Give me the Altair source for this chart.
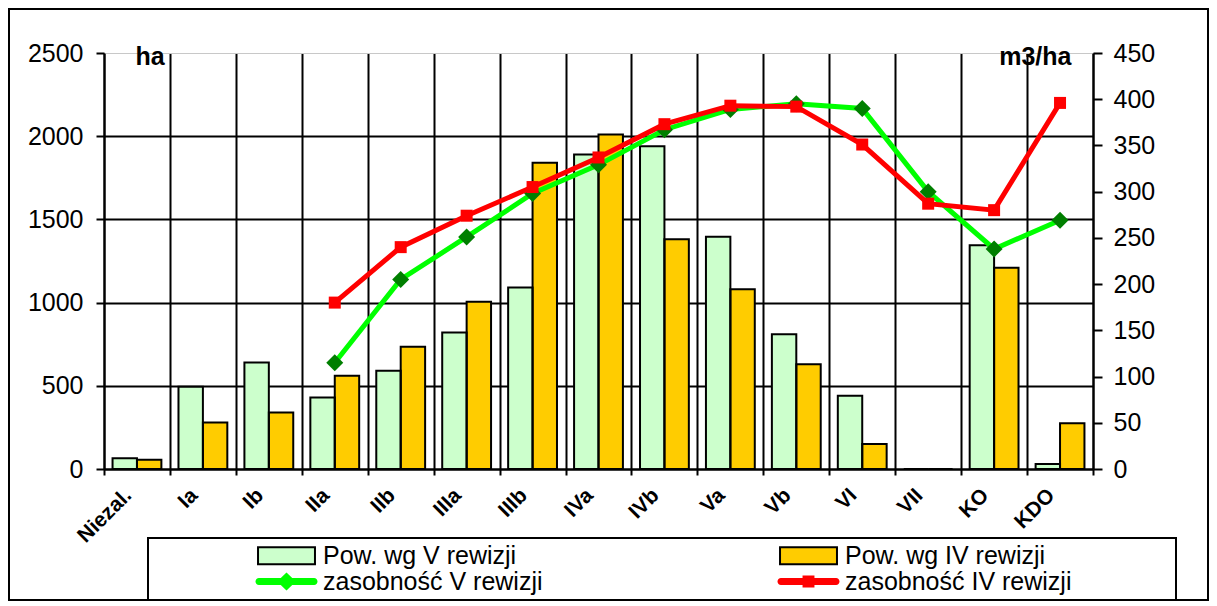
import altair as alt
import pandas as pd

# ---- data ----
kategorie = ["Niezal.", "Ia", "Ib", "IIa", "IIb", "IIIa", "IIIb", "IVa", "IVb",
             "Va", "Vb", "VI", "VII", "KO", "KDO"]
pow_v = [65, 495, 640, 430, 590, 820, 1090, 1890, 1940, 1395, 810, 440, 0, 1345, 30]
pow_iv = [55, 280, 340, 560, 735, 1005, 1840, 2010, 1380, 1080, 630, 150, 0, 1210, 275]
zas_v = [None, None, None, 115, 205, 251, 298, 329, 367, 389, 395, 390, 300, 238, 269]
zas_iv = [None, None, None, 180, 240, 274, 305, 337, 373, 393, 392, 351, 287, 280, 396]

serie = ["Pow. wg V rewizji", "Pow. wg IV rewizji", "zasobność V rewizji", "zasobność IV rewizji"]
kolory = ["#CCFFCC", "#FFCC00", "#00FF00", "#FF0000"]
left_ticks = [0, 500, 1000, 1500, 2000, 2500]
right_ticks = [0, 50, 100, 150, 200, 250, 300, 350, 400, 450]

bars_df = pd.DataFrame({
    "kategoria": kategorie * 2,
    "seria": [serie[0]] * len(kategorie) + [serie[1]] * len(kategorie),
    "wartosc": pow_v + pow_iv,
})
zv_df = pd.DataFrame({"kategoria": kategorie, "wartosc": zas_v}).dropna()
ziv_df = pd.DataFrame({"kategoria": kategorie, "wartosc": zas_iv}).dropna()
frame_df = pd.DataFrame({"k": [0]})

FONT = "Liberation Sans"
W, H = 989, 416

x_axis = alt.Axis(
    tickBand="extent", grid=True, gridColor="black", gridWidth=2,
    ticks=True, tickSize=6, tickWidth=2, tickColor="black",
    domainColor="black", domainWidth=2,
    labelAngle=-45, labelAlign="right", labelBaseline="middle",
    labelFont=FONT, labelFontSize=21, labelFontWeight="bold", labelColor="black",
    labelPadding=17, labelOffset=-9, title=None,
)
x_enc = alt.X("kategoria:N", sort=kategorie,
              scale=alt.Scale(paddingInner=0, paddingOuter=0), axis=x_axis)

y_left = alt.Y(
    "wartosc:Q",
    scale=alt.Scale(domain=[0, 2500], nice=False),
    axis=alt.Axis(
        orient="left", values=left_ticks, format="d", grid=True,
        gridColor={"condition": {"test": "datum.value >= 2500", "value": "#C8C8C8"}, "value": "black"},
        gridWidth={"condition": {"test": "datum.value >= 2500", "value": 1}, "value": 2},
        tickSize=8, tickWidth=2, tickColor="black",
        domainColor="black", domainWidth=2,
        labelFont=FONT, labelFontSize=25, labelColor="black", labelPadding=13,
        title="ha", titleAngle=0, titleX=31, titleY=11, titleAlign="left",
        titleBaseline="alphabetic", titleFont=FONT, titleFontSize=25,
        titleFontWeight="bold", titleColor="black",
    ),
)

RECT = "M-3.35,-1H3.35V1H-3.35Z"
LINE = "M-3.24,-0.41H3.24A0.41,0.41,0,0,1,3.24,0.41H-3.24A0.41,0.41,0,0,1,-3.24,-0.41Z"
DIAM = "M0,-1.05L1.1,0L0,1.05L-1.1,0Z"
SQ = "M-0.7,-0.7H0.7V0.7H-0.7Z"
is_bar = f"(datum.value == '{serie[0]}' || datum.value == '{serie[1]}')"
sym_expr = (f"{is_bar} ? '{RECT}' : (datum.value == '{serie[2]}' ? "
            f"'{LINE} {DIAM}' : '{LINE} {SQ}')")
stroke_expr = f"{is_bar} ? 'black' : 'transparent'"

legend = alt.Legend(
    title="\u00a0", titleOrient="right", titlePadding=100, titleFontSize=2,
    orient="none", legendX=44, legendY=485, direction="horizontal",
    columns=2, columnPadding=132, rowPadding=-1, padding=5,
    strokeColor="black",
    labelFont=FONT, labelFontSize=25, labelColor="black", labelOffset=24, labelLimit=0,
    symbolOffset=121, symbolSize=289,
    symbolType=alt.ExprRef(expr=sym_expr),
    symbolStrokeColor=alt.ExprRef(expr=stroke_expr),
    symbolStrokeWidth=2, symbolOpacity=1,
)

x_off = alt.XOffset("seria:N", sort=serie[:2],
                    scale=alt.Scale(paddingInner=0, paddingOuter=0.35))

frame = alt.Chart(frame_df).mark_rect(fillOpacity=0, stroke="black", strokeWidth=2).encode(
    x=alt.value(-95), x2=alt.value(1104), y=alt.value(-44), y2=alt.value(547)
)

bars_fill = alt.Chart(bars_df).mark_bar(strokeWidth=0).encode(
    x=x_enc, xOffset=x_off, y=y_left,
    color=alt.Color("seria:N", scale=alt.Scale(domain=serie, range=kolory), legend=legend),
)
bars_line = alt.Chart(bars_df).mark_bar(filled=False, stroke="black", strokeWidth=2).encode(
    x=x_enc, xOffset=x_off, y=y_left,
)

y_right_axis = alt.Axis(
    orient="right", values=right_ticks, grid=False,
    tickSize=9, tickWidth=2, tickColor="black",
    domainColor="black", domainWidth=2,
    labelFont=FONT, labelFontSize=25, labelColor="black", labelPadding=11,
    title="m3/ha", titleAngle=0, titleX=-22, titleY=11, titleAlign="right",
    titleBaseline="alphabetic", titleFont=FONT, titleFontSize=25,
    titleFontWeight="bold", titleColor="black",
)
y_right = alt.Y("wartosc:Q", scale=alt.Scale(domain=[0, 450], nice=False), axis=y_right_axis)

line_v = alt.Chart(zv_df).mark_line(color="#00FF00", strokeWidth=5).encode(x=x_enc, y=y_right)
pts_v = alt.Chart(zv_df).mark_point(shape="diamond", filled=True, size=289,
                                    color="#007F00", opacity=1).encode(x=x_enc, y=y_right)
line_iv = alt.Chart(ziv_df).mark_line(color="#FF0000", strokeWidth=5).encode(x=x_enc, y=y_right)
pts_iv = alt.Chart(ziv_df).mark_point(shape="square", filled=True, size=144,
                                      color="#FF0000", opacity=1).encode(x=x_enc, y=y_right)

left = alt.layer(frame, bars_fill, bars_line)
right = alt.layer(line_v, pts_v, line_iv, pts_iv)

chart = (
    alt.layer(left, right)
    .resolve_scale(y="independent")
    .properties(width=W, height=H, padding=0, background="white")
    .configure_view(stroke=None)
    .configure_legend(strokeWidth=2)
)

chart.save("out.html", embed_options={"renderer": "svg", "actions": False})
